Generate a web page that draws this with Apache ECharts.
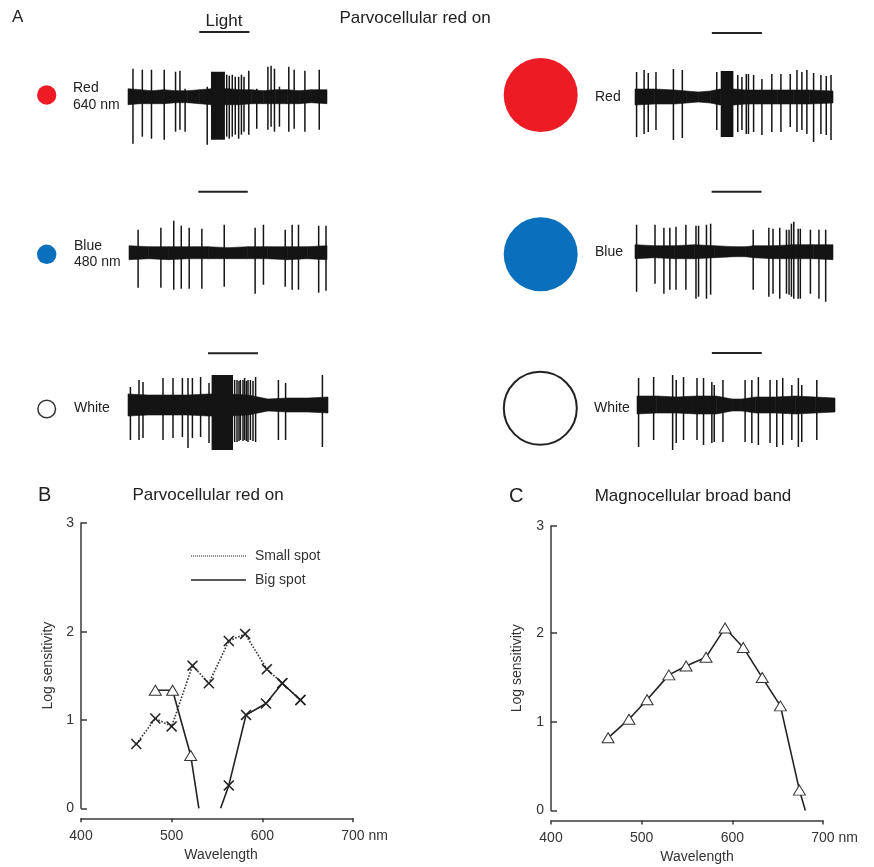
<!DOCTYPE html>
<html><head><meta charset="utf-8">
<script src="https://cdn.jsdelivr.net/npm/echarts@6/dist/echarts.min.js"></script>
<style>html,body{margin:0;padding:0;background:#fff}#c{width:874px;height:867px}</style>
</head><body><div id="c"></div>
<script>
// ================= DATA =================
// Spike recordings: time (0-1000, arbitrary ms), spike [t, up amplitude, down amplitude] (arbitrary µV)
const spikesRedL = [[25,28,47],[72,27,40],[118,27,42],[182,27,43],[239,25,35],[261,26,33],[287,8,35],[398,10,48],
  [496,22,40],[509,21,42],[524,22,40],[539,20,38],[556,20,42],[570,22,38],[583,20,35],[607,26,38],
  [647,8,32],[703,30,33],[719,31,30],[736,28,35],[761,10,30],[808,30,35],[835,27,32],[889,26,35],[961,27,33]];
const burstsRedL = [[417,487,25,43]];
const noiseRedL = [[0,8,8],[60,7,7],[120,6,7],[180,7,7],[240,6,6],[300,6,6],[360,7,7],[420,8,8],[500,8,8],[560,7,8],[620,7,7],[680,6,7],[740,7,7],[800,7,7],[860,6,7],[920,7,6],[1000,7,7]];
const lightRedL = [358, 610];

const spikesRedR = [[8,25,40],[46,27,37],[67,24,35],[106,25,33],[194,28,43],[239,27,41],[413,25,33],
  [519,22,35],[540,20,33],[562,23,37],[573,23,37],[599,22,35],[641,18,38],[691,23,35],[737,23,35],[784,23,30],
  [818,27,35],[843,25,33],[868,27,37],[902,24,45],[939,22,37],[966,21,38],[990,22,43]];
const burstsRedR = [[433,497,26,40]];
const noiseRedR = [[0,8,8],[100,8,7],[200,7,7],[260,6,6],[320,5,5],[380,6,6],[430,8,8],[500,8,8],[560,7,7],[640,7,7],[720,7,7],[800,7,7],[880,7,7],[1000,6,6]];
const lightRedR = [388, 641];

const spikesBlueL = [[46,23,35],[161,25,35],[226,32,37],[264,27,36],[304,25,36],[368,24,36],[481,28,34],[637,25,41],
  [679,28,32],[789,23,34],[824,28,37],[856,28,37],[958,27,40],[995,27,38]];
const burstsBlueL = [];
const noiseBlueL = [[0,7,7],[100,6,6],[200,6,7],[300,6,6],[400,6,6],[500,5,6],[600,6,6],[700,6,6],[800,6,7],[900,6,6],[1000,7,7]];
const lightBlueL = [350, 600];

const spikesBlueR = [[8,27,40],[101,27,32],[146,24,42],[176,24,38],[207,25,38],[257,27,38],[308,26,47],[321,26,45],
  [361,27,47],[382,28,43],[597,22,38],[676,24,45],[697,23,42],[731,24,47],[765,22,42],[778,22,43],[790,28,45],
  [802,30,47],[824,23,47],[835,23,47],[886,22,42],[929,22,47],[963,22,50]];
const burstsBlueR = [];
const noiseBlueR = [[0,7,7],[100,6,6],[200,6,7],[300,7,7],[400,6,6],[500,5,5],[560,5,5],[600,6,6],[700,6,7],[800,7,7],[900,7,7],[1000,7,8]];
const lightBlueR = [387, 639];

const spikesWhiteL = [[12,18,35],[55,25,35],[75,23,33],[175,27,35],[225,27,33],[272,27,32],[300,27,43],[322,27,33],
  [363,28,32],[405,22,38],[533,25,37],[545,25,37],[555,24,36],[562,25,35],[575,25,36],[583,27,35],[592,24,36],
  [600,25,37],[612,25,35],[625,24,36],[638,28,37],[752,25,35],[788,22,35],[972,30,42]];
const burstsWhiteL = [[418,525,30,45]];
const noiseWhiteL = [[0,11,11],[100,10,10],[200,10,10],[300,10,10],[400,11,11],[500,11,11],[600,10,10],[650,8,8],[700,6,6],[800,7,7],[900,7,7],[1000,8,8]];
const lightWhiteL = [400, 650];

const spikesWhiteR = [[8,27,42],[84,28,35],[180,30,45],[198,25,38],[235,28,35],[303,27,35],[336,27,40],[378,23,38],
  [390,20,37],[434,25,37],[546,25,37],[580,25,38],[613,28,40],[672,25,38],[706,25,42],[736,27,40],[782,20,35],
  [815,27,42],[832,20,37],[908,25,35]];
const burstsWhiteR = [];
const noiseWhiteR = [[0,9,9],[100,9,8],[200,8,8],[300,9,9],[400,9,9],[480,6,6],[530,6,6],[600,8,8],[700,8,8],[800,9,9],[900,8,8],[1000,7,7]];
const lightWhiteR = [378, 630];

// Panel B: Parvocellular red on
const smallSpotWl  = [461, 482, 500, 523, 541, 563, 581, 605, 622, 642];
const smallSpotVal = [0.73, 1.02, 0.93, 1.62, 1.42, 1.90, 1.98, 1.58, 1.42, 1.23];
const bigSpotWl    = [482, 501, 521, 530, null, 554, 563, 582, 604, 622, 642];
const bigSpotVal   = [1.34, 1.34, 0.60, 0, null, 0, 0.26, 1.06, 1.19, 1.42, 1.23];
const bigSpotMark  = ['tri','tri','tri','none',null,'none','x','x','x','x','x'];

// Panel C: Magnocellular broad band
const magWl  = [463, 486, 506, 530, 549, 571, 592, 612, 633, 653, 674, 680.5];
const magVal = [0.82, 1.03, 1.25, 1.53, 1.63, 1.73, 2.06, 1.84, 1.50, 1.18, 0.23, 0];
const magMark = ['tri','tri','tri','tri','tri','tri','tri','tri','tri','tri','tri','none'];

const xTicks = [400, 500, 600, 700];
const yTicks = [0, 1, 2, 3];

// ================= LAYOUT / STYLE =================
const FONT = '"Liberation Sans", Arial, Helvetica, sans-serif';
const INK = '#141414';
const traces = [
  {spikes: spikesRedL,   bursts: burstsRedL,   noise: noiseRedL,   light: lightRedL,   left: 128, width: 199, base: 96.7,  bar: 64.7},
  {spikes: spikesRedR,   bursts: burstsRedR,   noise: noiseRedR,   light: lightRedR,   left: 635, width: 198, base: 97,    bar: 64},
  {spikes: spikesBlueL,  bursts: burstsBlueL,  noise: noiseBlueL,  light: lightBlueL,  left: 129, width: 198, base: 252.7, bar: 61},
  {spikes: spikesBlueR,  bursts: burstsBlueR,  noise: noiseBlueR,  light: lightBlueR,  left: 635, width: 198, base: 251.7, bar: 60},
  {spikes: spikesWhiteL, bursts: burstsWhiteL, noise: noiseWhiteL, light: lightWhiteL, left: 128, width: 200, base: 405,   bar: 51.7},
  {spikes: spikesWhiteR, bursts: burstsWhiteR, noise: noiseWhiteR, light: lightWhiteR, left: 637, width: 198, base: 405,   bar: 52}
];

const grids = [], xAxes = [], yAxes = [], series = [];
traces.forEach((tr, i) => {
  grids.push({left: tr.left, top: tr.base - 70, width: tr.width, height: 140});
  xAxes.push({gridIndex: i, type: 'value', min: 0, max: 1000, show: false});
  yAxes.push({gridIndex: i, type: 'value', min: -70, max: 70, show: false});
  const noise = tr.noise;
  series.push({
    type: 'custom', xAxisIndex: i, yAxisIndex: i, data: noise, silent: true,
    renderItem: (params, api) => {
      const k = params.dataIndex;
      if (k >= noise.length - 1) return null;
      const p = noise[k], q = noise[k + 1];
      const pts = [api.coord([p[0], p[1]]), api.coord([q[0], q[1]]), api.coord([q[0], -q[2]]), api.coord([p[0], -p[2]])];
      return {type: 'polygon', shape: {points: pts}, style: {fill: INK, stroke: INK, lineWidth: 0.6}};
    }
  });
  series.push({
    type: 'custom', xAxisIndex: i, yAxisIndex: i, data: tr.bursts, silent: true,
    renderItem: (params, api) => {
      const t0 = api.value(0), t1 = api.value(1), up = api.value(2), dn = api.value(3);
      const pts = [api.coord([t0, up]), api.coord([t1, up]), api.coord([t1, -dn]), api.coord([t0, -dn])];
      return {type: 'polygon', shape: {points: pts}, style: {fill: INK}};
    }
  });
  series.push({
    type: 'custom', xAxisIndex: i, yAxisIndex: i, data: tr.spikes, silent: true,
    renderItem: (params, api) => {
      const t = api.value(0), up = api.value(1), dn = api.value(2);
      const a = api.coord([t, up]), b = api.coord([t, -dn]);
      return {type: 'line', shape: {x1: a[0], y1: a[1], x2: b[0], y2: b[1]}, style: {stroke: INK, lineWidth: 1.5}};
    }
  });
  const bar = tr.bar;
  series.push({
    type: 'custom', xAxisIndex: i, yAxisIndex: i, data: [tr.light], silent: true,
    renderItem: (params, api) => {
      const a = api.coord([api.value(0), bar]), b = api.coord([api.value(1), bar]);
      return {type: 'line', shape: {x1: a[0], y1: a[1], x2: b[0], y2: b[1]}, style: {stroke: '#222', lineWidth: 2}};
    }
  });
});

// Spectral charts
const X_PATH = 'path://M1,0L5,4L9,0L10,1L6,5L10,9L9,10L5,6L1,10L0,9L4,5L0,1Z';
function markerOf(m) {
  if (m === 'x') return {symbol: X_PATH, symbolSize: [11, 11], itemStyle: {color: '#222', borderWidth: 0}};
  if (m === 'tri') return {symbol: 'triangle', symbolSize: [12, 10], itemStyle: {color: '#fff', borderColor: '#333', borderWidth: 1}};
  return {symbol: 'none'};
}
const AXC = '#3a3a3a';
function specAxes(gi, yMax, namePadX, yNameGap) {
  xAxes.push({
    gridIndex: gi, type: 'value', min: xTicks[0], max: xTicks[xTicks.length - 1], interval: 100, offset: 10,
    axisLine: {show: true, onZero: false, lineStyle: {color: AXC, width: 1.5}},
    axisTick: {show: true, length: 4, lineStyle: {color: AXC, width: 1.5}},
    splitLine: {show: false},
    axisLabel: {color: '#333', fontSize: 14, fontFamily: FONT, margin: 11,
      formatter: v => v === 700 ? '{p|}700 nm' : String(v),
      rich: {p: {width: 23}}},
    name: 'Wavelength', nameLocation: 'middle', nameGap: 30,
    nameTextStyle: {color: '#333', fontSize: 14, fontFamily: FONT, padding: [0, 0, 0, namePadX]}
  });
  const yVals = [0, 1, 2, yMax];
  yAxes.push({
    gridIndex: gi, type: 'value', min: 0, max: yMax,
    axisLine: {show: true, lineStyle: {color: AXC, width: 1.5}},
    axisTick: {show: true, inside: true, length: 6, customValues: yVals, lineStyle: {color: AXC, width: 1.5}},
    splitLine: {show: false},
    axisLabel: {customValues: yVals, color: '#333', fontSize: 14, fontFamily: FONT, margin: 7,
      formatter: v => v > 2.5 ? String(yTicks[3]) : String(yTicks[Math.round(v)])},
    name: 'Log sensitivity', nameLocation: 'middle', nameGap: yNameGap,
    nameTextStyle: {color: '#333', fontSize: 14, fontFamily: FONT}
  });
}
grids.push({left: 81, top: 523, width: 272, height: 285.3});
specAxes(6, 3.24, 8, 26);
grids.push({left: 551, top: 526, width: 272, height: 284.5});
specAxes(7, 3.21, 20, 27);

series.push({
  type: 'line', name: 'Small spot', xAxisIndex: 6, yAxisIndex: 6,
  data: smallSpotWl.map((w, k) => Object.assign({value: [w, smallSpotVal[k]]}, markerOf('x'))),
  lineStyle: {type: 'dotted', width: 1.6, color: '#333'}, itemStyle: {color: '#222'}, z: 3
});
series.push({
  type: 'line', name: 'Big spot', xAxisIndex: 6, yAxisIndex: 6, connectNulls: false,
  data: bigSpotWl.map((w, k) => w === null ? {value: ['-', '-']} : Object.assign({value: [w, bigSpotVal[k]]}, markerOf(bigSpotMark[k]))),
  lineStyle: {type: 'solid', width: 1.6, color: '#222'}, itemStyle: {color: '#222'}, z: 4
});
series.push({
  type: 'line', name: 'Magnocellular', xAxisIndex: 7, yAxisIndex: 7,
  data: magWl.map((w, k) => Object.assign({value: [w, magVal[k]]}, markerOf(magMark[k]))),
  lineStyle: {type: 'solid', width: 1.6, color: '#222'}, itemStyle: {color: '#222'}, z: 4
});

// dotted legend icon
let dotPath = 'path://';
for (let k = 0; k < 28; k++) dotPath += 'M' + (k * 2) + ',0h1.1v1h-1.1z';

const T = (text, x, y, size, align, extra) => Object.assign({
  type: 'text', x: x, y: y, silent: true,
  style: {text: text, font: size + 'px ' + FONT, fill: '#222', align: align || 'left', verticalAlign: 'middle'}
}, extra || {});

const graphic = [
  T('A', 12, 17.5, 17),
  T('Parvocellular red on', 415, 18, 17, 'center'),
  T('Light', 224, 21, 17, 'center'),
  {type: 'circle', shape: {cx: 46.7, cy: 95, r: 9.7}, style: {fill: '#ED1C24'}},
  T('Red', 73, 88, 14), T('640 nm', 73, 105, 14),
  {type: 'circle', shape: {cx: 540.7, cy: 95, r: 37}, style: {fill: '#ED1C24'}},
  T('Red', 595, 97, 14),
  {type: 'circle', shape: {cx: 46.7, cy: 254.3, r: 9.7}, style: {fill: '#0A70BE'}},
  T('Blue', 74, 246, 14), T('480 nm', 74, 262, 14),
  {type: 'circle', shape: {cx: 540.7, cy: 254.3, r: 37}, style: {fill: '#0A70BE'}},
  T('Blue', 595, 252, 14),
  {type: 'circle', shape: {cx: 46.7, cy: 409, r: 8.8}, style: {fill: '#fff', stroke: '#333', lineWidth: 1.5}},
  T('White', 74, 408, 14),
  {type: 'circle', shape: {cx: 540.3, cy: 408.3, r: 36.5}, style: {fill: '#fff', stroke: '#222', lineWidth: 2}},
  T('White', 594, 408, 14),
  T('B', 38, 495, 20),
  T('Parvocellular red on', 208, 495, 17, 'center'),
  T('C', 509, 496, 20),
  T('Magnocellular broad band', 693, 496, 17, 'center')
];

const chart = echarts.init(document.getElementById('c'), null, {renderer: 'canvas'});
chart.setOption({
  animation: false,
  backgroundColor: '#fff',
  textStyle: {fontFamily: FONT},
  grid: grids, xAxis: xAxes, yAxis: yAxes, series: series,
  legend: {
    show: true, orient: 'vertical', left: 186, top: 544, itemWidth: 55, itemHeight: 1.6, itemGap: 10,
    data: [{name: 'Small spot', icon: dotPath}, {name: 'Big spot', icon: 'rect'}],
    textStyle: {color: '#333', fontSize: 14, fontFamily: FONT, padding: [0, 0, 0, 4]},
    selectedMode: false
  },
  graphic: graphic
});
</script></body></html>
